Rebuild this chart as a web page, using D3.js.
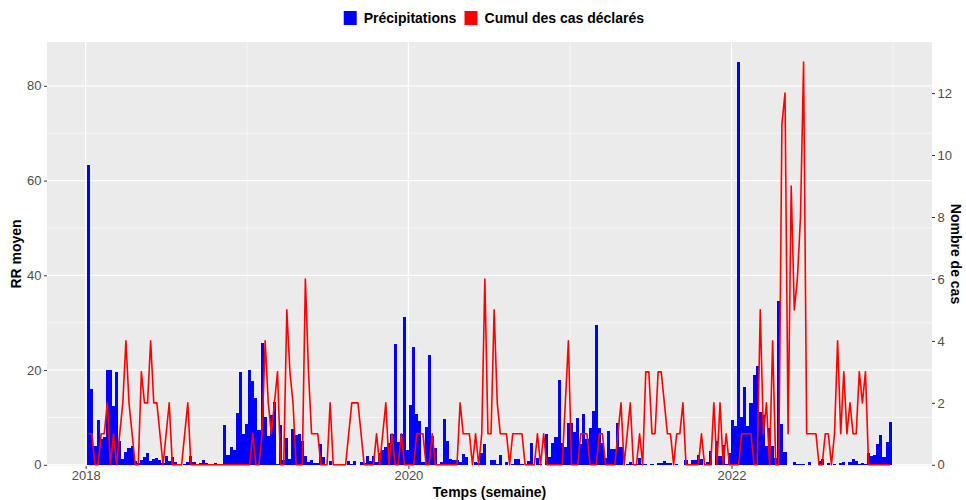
<!DOCTYPE html>
<html>
<head>
<meta charset="utf-8">
<script src="https://cdn.jsdelivr.net/npm/d3@7"></script>
<style>
  body { margin: 0; background: #ffffff; }
  text { font-family: "Liberation Sans", Arial, Helvetica, sans-serif; }
</style>
</head>
<body>
<svg id="chart" width="966" height="500"></svg>
<script>
// Weekly series, one value per week starting on the Monday below
const firstWeek = "2018-01-08";

// Mean weekly rainfall (RR moyen, mm)
const precipitation = [
  63.2, 16.1, 4.0, 9.5, 5.5, 5.8, 20.1, 20.1, 12.5, 19.5,
  5.1, 1.3, 2.7, 3.6, 4.0, 0.7, 0.4, 1.1, 1.7, 2.5,
  0.9, 1.3, 1.5, 1.1, 0.4, 1.9, 0.7, 1.7, 0.5, 0.2,
  0, 0.2, 0.6, 1.9, 0.6, 0.2, 0.4, 1.1, 0.4, 0.2,
  0.1, 0.4, 0.1, 0, 8.5, 2.1, 3.8, 3.2, 11.0, 19.5,
  6.5, 8.7, 20.1, 17.7, 14.2, 7.4, 25.8, 10.1, 6.0, 10.6,
  13.3, 0.2, 8.5, 1.1, 5.7, 1.3, 7.6, 6.3, 6.5, 5.1,
  1.9, 0.6, 1.1, 0.4, 0.4, 4.4, 1.7, 0, 0.8, 0,
  0, 0, 0, 0, 0.8, 0.2, 0.8, 0, 0.6, 0.4,
  1.9, 0.8, 1.9, 0.6, 2.5, 3.2, 3.8, 4.6, 6.5, 25.6,
  4.9, 6.5, 31.3, 3.2, 12.7, 24.9, 10.8, 9.3, 0.6, 8.0,
  23.2, 6.1, 3.6, 0, 0.6, 9.7, 5.1, 1.3, 1.1, 1.1,
  0.6, 2.3, 1.7, 0, 0, 0.6, 0.4, 2.5, 4.4, 0,
  1.1, 1.1, 0.2, 2.1, 0, 0.6, 0, 0.2, 1.3, 1.3,
  0.2, 0, 0.8, 4.6, 0, 1.5, 0.2, 0, 6.5, 1.7,
  4.6, 5.9, 18.0, 4.6, 3.8, 8.9, 8.9, 7.0, 9.9, 4.4,
  10.8, 5.5, 7.8, 11.4, 29.6, 7.8, 4.6, 1.5, 7.2, 3.4,
  3.4, 8.9, 3.8, 0, 0.2, 0.6, 0.2, 0.2, 1.5, 0.2,
  0.2, 0, 0.2, 0, 0.4, 0.4, 0.8, 0.4, 0.4, 0,
  0.2, 0, 0, 1.1, 0, 1.1, 1.1, 2.1, 1.3, 0,
  0.6, 3.0, 0, 5.1, 1.9, 4.2, 0.2, 2.5, 9.5, 8.2,
  85.0, 10.1, 16.5, 8.2, 13.1, 19.0, 20.9, 11.2, 10.6, 4.0,
  7.8, 4.0, 1.5, 34.6, 8.7, 2.7, 0, 0, 0.6, 0.2,
  0.2, 0.2, 0, 0.6, 0, 0, 0.8, 1.3, 0, 0.4,
  0, 0.2, 0, 0.4, 0.6, 0, 0.6, 1.3, 0.8, 0.2,
  0.4, 0.2, 2.5, 1.9, 2.1, 4.4, 6.3, 1.7, 4.9, 9.1
];

// Reported cases per week (Nombre de cas)
const cases = [
  1, 1, 0, 0, 1, 1, 2, 0, 1, 0,
  1, 2, 4, 2, 1, 0, 0, 3, 2, 2,
  4, 2, 2, 1, 0, 1, 2, 0, 0, 0,
  0, 1, 2, 0, 0, 0, 0, 0, 0, 0,
  0, 0, 0, 0, 0, 0, 0, 0, 0, 0,
  0, 0, 0, 1, 0, 0, 1, 4, 2, 1,
  2, 3, 0, 0, 5, 3, 2, 0, 0, 0,
  6, 3, 1, 1, 1, 0, 0, 0, 2, 0,
  0, 0, 0, 0, 1, 2, 2, 2, 1, 0,
  0, 0, 0, 1, 0, 1, 2, 0, 1, 0,
  0, 1, 0, 0, 0, 0, 1, 1, 1, 0,
  0, 1, 0, 0, 0, 0, 0, 0, 0, 0,
  2, 1, 1, 1, 0, 1, 0, 1, 6, 1,
  1, 5, 2, 1, 1, 1, 0, 1, 1, 1,
  1, 0, 0, 0, 0, 1, 0, 1, 0, 0,
  0, 0, 0, 0, 2, 4, 0, 0, 0, 1,
  1, 1, 0, 0, 0, 1, 1, 0, 0, 0,
  0, 1, 2, 0, 1, 2, 0, 0, 1, 0,
  3, 3, 1, 1, 3, 3, 2, 1, 1, 0,
  1, 1, 2, 0, 0, 0, 0, 0, 1, 0,
  0, 0, 2, 0, 2, 0, 1, 0, 0, 0,
  0, 1, 1, 1, 1, 0, 0, 5, 1, 2,
  0, 4, 0, 0, 11, 12, 1, 9, 5, 6,
  8, 13, 1, 1, 1, 1, 0, 0, 1, 1,
  0, 1, 4, 1, 3, 1, 2, 1, 1, 3,
  2, 3, 0, 0, 0, 0, 0, 0, 0, 0
];

const rrTicks = [0, 20, 40, 60, 80];
const rrMinorTicks = [10, 30, 50, 70];
const caseTicks = [0, 2, 4, 6, 8, 10, 12];
const yearTicks = [2018, 2020, 2022];
const yearMinorTicks = [2019, 2021, 2023];
const seriesLabels = ["Précipitations", "Cumul des cas déclarés"];
const seriesColors = ["#0000FF", "#FF0000"];
const axisTitles = { x: "Temps (semaine)", left: "RR moyen", right: "Nombre de cas" };

// ---- layout ----
const W = 966, H = 500;
const panel = { left: 47, right: 932, top: 42, bottom: 466 };

const svg = d3.select("#chart");

const start = d3.utcParse("%Y-%m-%d")(firstWeek);
const weeks = precipitation.map((_, i) => d3.utcDay.offset(start, 7 * i));
const rows = weeks.map((d, i) => ({ date: d, rr: precipitation[i], n: cases[i] }));

// x: bar extent expanded by 5% on each side
const halfWeek = 3.5 * 864e5;
const x0 = +weeks[0] - halfWeek, x1 = +weeks[weeks.length - 1] + halfWeek;
const pad = (x1 - x0) * 0.05;
const x = d3.scaleUtc()
  .domain([new Date(x0 - pad), new Date(x1 + pad)])
  .range([panel.left, panel.right]);

// y: rainfall on the left, cases mapped onto the same range on the right
const rrMax = d3.max(precipitation);
const nMax = d3.max(cases);
const ratio = rrMax / nMax;
const y = d3.scaleLinear()
  .domain([-rrMax * 0.003, rrMax * 1.05])
  .range([panel.bottom, panel.top]);
const yCases = d3.scaleLinear()
  .domain(y.domain().map(v => v / ratio))
  .range(y.range());

// ---- panel + grid ----
svg.append("rect")
  .attr("x", panel.left).attr("y", panel.top)
  .attr("width", panel.right - panel.left)
  .attr("height", panel.bottom - panel.top)
  .attr("fill", "#EBEBEB");

const grid = svg.append("g").attr("stroke", "#FFFFFF").attr("fill", "none");
grid.selectAll(".hmin").data(rrMinorTicks).join("line")
  .attr("x1", panel.left).attr("x2", panel.right)
  .attr("y1", d => y(d)).attr("y2", d => y(d))
  .attr("stroke-width", 0.6);
grid.selectAll(".vmin").data(yearMinorTicks).join("line")
  .attr("x1", d => x(Date.UTC(d, 0, 1))).attr("x2", d => x(Date.UTC(d, 0, 1)))
  .attr("y1", panel.top).attr("y2", panel.bottom)
  .attr("stroke-width", 0.6);
grid.selectAll(".hmaj").data(rrTicks).join("line")
  .attr("x1", panel.left).attr("x2", panel.right)
  .attr("y1", d => y(d)).attr("y2", d => y(d))
  .attr("stroke-width", 1.2);
grid.selectAll(".vmaj").data(yearTicks).join("line")
  .attr("x1", d => x(Date.UTC(d, 0, 1))).attr("x2", d => x(Date.UTC(d, 0, 1)))
  .attr("y1", panel.top).attr("y2", panel.bottom)
  .attr("stroke-width", 1.2);

// ---- bars ----
svg.append("g")
  .attr("fill", seriesColors[0])
  .attr("shape-rendering", "crispEdges")
  .selectAll("rect").data(rows).join("rect")
  .attr("x", d => x(+d.date - halfWeek))
  .attr("width", d => x(+d.date + halfWeek) - x(+d.date - halfWeek))
  .attr("y", d => y(d.rr))
  .attr("height", d => y(0) - y(d.rr));

// ---- cases line ----
const line = d3.line()
  .x(d => x(d.date))
  .y(d => yCases(d.n));
svg.append("path")
  .datum(rows)
  .attr("d", line)
  .attr("fill", "none")
  .attr("stroke", seriesColors[1])
  .attr("stroke-width", 1.6)
  .attr("stroke-linejoin", "round")
  .attr("stroke-linecap", "butt");

// ---- axes ----
function styleAxis(g) {
  g.select(".domain").remove();
  g.selectAll(".tick line").attr("stroke", "#333333").attr("stroke-width", 1);
  g.selectAll(".tick text")
    .attr("fill", "#4D4D4D")
    .style("font-size", "13px")
    .style("font-family", "'Liberation Sans', Arial, sans-serif");
}

svg.append("g")
  .attr("transform", `translate(${panel.left},0)`)
  .call(d3.axisLeft(y).tickValues(rrTicks).tickSize(3).tickPadding(2.5))
  .call(styleAxis);

svg.append("g")
  .attr("transform", `translate(${panel.right},0)`)
  .call(d3.axisRight(yCases).tickValues(caseTicks).tickSize(3).tickPadding(2.5))
  .call(styleAxis);

svg.append("g")
  .attr("transform", `translate(0,${panel.bottom})`)
  .call(d3.axisBottom(x)
    .tickValues(yearTicks.map(yr => new Date(Date.UTC(yr, 0, 1))))
    .tickFormat(d3.utcFormat("%Y"))
    .tickSize(3).tickPadding(2))
  .call(styleAxis);

// ---- axis titles ----
const titleStyle = s => s.attr("fill", "#000000")
  .style("font-size", "14px").style("font-weight", "bold");

svg.append("text")
  .attr("x", (panel.left + panel.right) / 2).attr("y", 497)
  .attr("text-anchor", "middle")
  .text(axisTitles.x).call(titleStyle);

svg.append("text")
  .attr("transform", `translate(21,${(panel.top + panel.bottom) / 2}) rotate(-90)`)
  .attr("text-anchor", "middle")
  .text(axisTitles.left).call(titleStyle);

svg.append("text")
  .attr("transform", `translate(951,${(panel.top + panel.bottom) / 2}) rotate(90)`)
  .attr("text-anchor", "middle")
  .text(axisTitles.right).call(titleStyle);

// ---- legend ----
const legend = svg.append("g");
const items = legend.selectAll("g").data(seriesLabels).join("g");
items.append("rect")
  .attr("width", 13).attr("height", 14)
  .attr("fill", (d, i) => seriesColors[i]);
items.append("text")
  .attr("x", 20).attr("y", 12)
  .text(d => d).call(titleStyle);
// place items side by side, centred over the plotting area
let offset = 0;
const widths = [];
items.each(function () { widths.push(this.getBBox().width); });
const gap = 8;
const total = d3.sum(widths) + gap * (widths.length - 1);
const legendCentre = 494;
items.attr("transform", (d, i) => {
  const t = `translate(${legendCentre - total / 2 + offset},11)`;
  offset += widths[i] + gap;
  return t;
});
</script>
</body>
</html>
